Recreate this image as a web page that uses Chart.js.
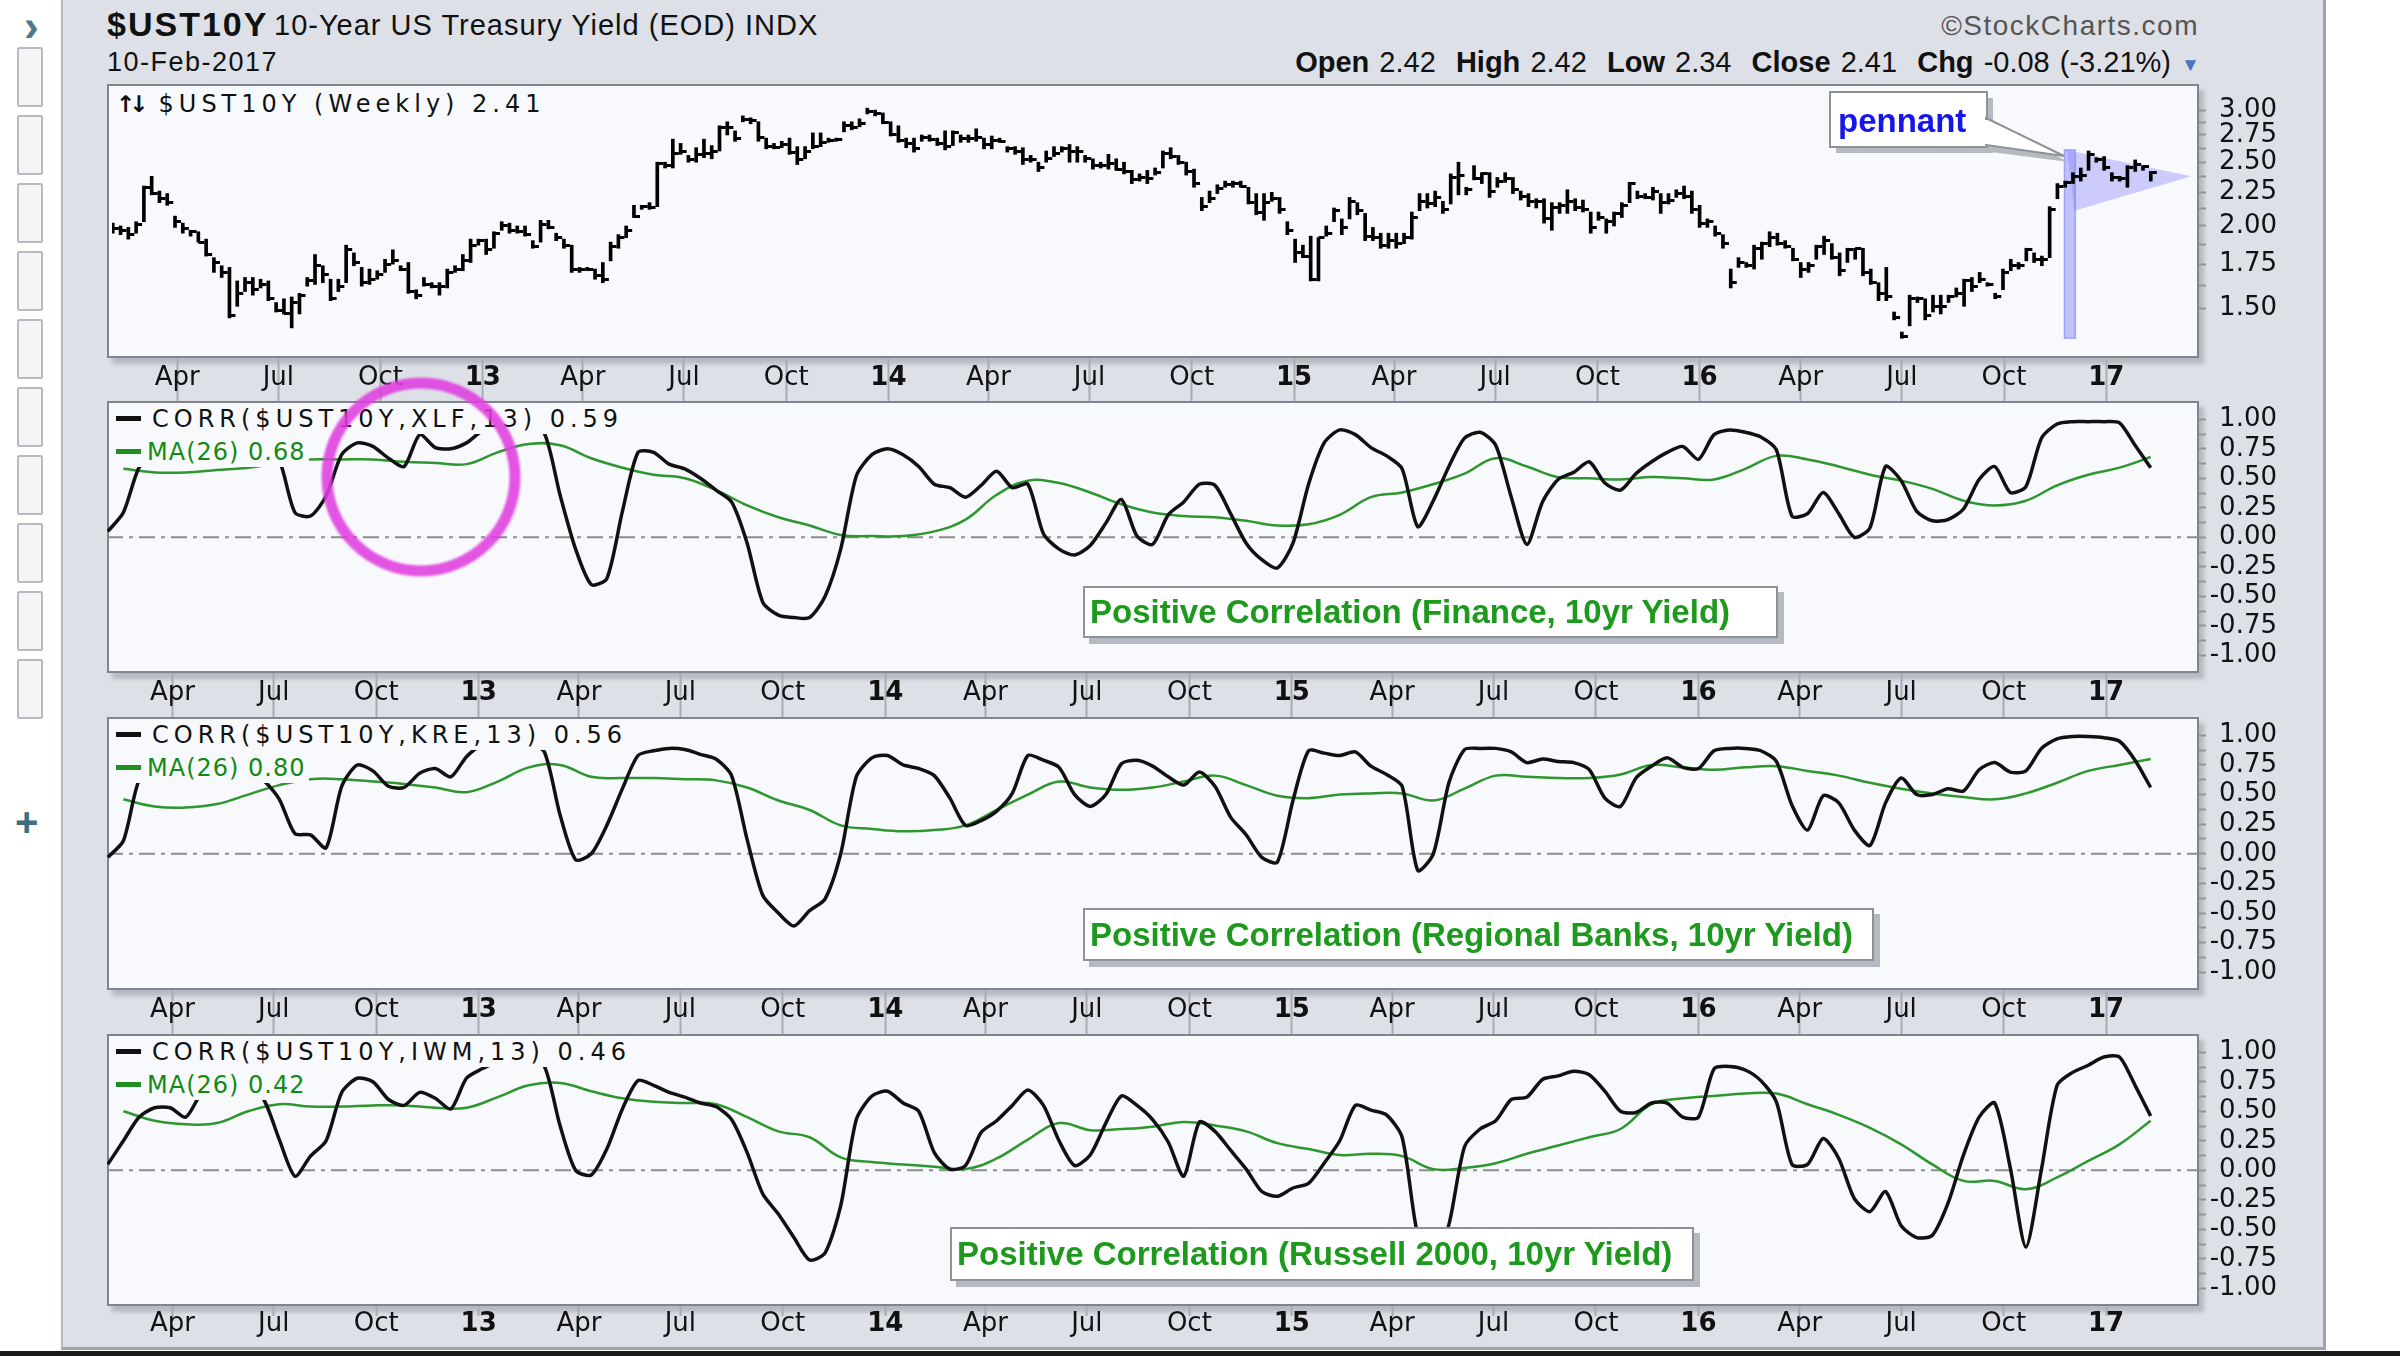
<!DOCTYPE html>
<html>
<head>
<meta charset="utf-8">
<title>$UST10Y with correlation panels</title>
<script src="https://cdn.jsdelivr.net/npm/chart.js@4.4.1/dist/chart.umd.min.js"></script>
<style>
  html, body { margin: 0; padding: 0; background: #fff; }
  body { width: 2400px; height: 1356px; position: relative; overflow: hidden; font-family: 'Liberation Sans', Arial, sans-serif; color: #111; }
  .abs { position: absolute; }
  #frame { left: 61px; top: 0; width: 2265px; height: 1350px; background: #dde0e7; border-left: 2px solid #b3b8c1; border-right: 3px solid #9ea3ac; border-bottom: 3px solid #9ea3ac; box-sizing: border-box; }
  #bottomline { left: 0; top: 1351px; width: 2400px; height: 5px; background: #1c1c1c; }
  .btn { left: 17px; width: 26px; height: 60px; box-sizing: border-box; border: 2px solid #b7bac0; background: #f5f5f5; border-radius: 2px; }
  .plot { left: 107px; width: 2092px; box-sizing: border-box; border: 2px solid #7f848e; background: #f8f9fc; box-shadow: 5px 6px 4px rgba(80, 85, 100, 0.28); }
  canvas { position: absolute; left: 107px; }
  .leg { left: 112px; height: 29px; line-height: 29px; font-family: 'DejaVu Sans', sans-serif; font-size: 24px; white-space: nowrap; background: #f8f9fc; padding: 0 4px; }
  .dash { display: inline-block; width: 25px; height: 5px; vertical-align: middle; margin-top: -3px; }
  .note { box-sizing: border-box; background: #fff; border: 2px solid #8e9197; box-shadow: 6px 6px 0 #b5b9c1; font-weight: bold; font-size: 33px; color: #1d9a1d; padding-left: 5px; white-space: nowrap; }
  .hdr { white-space: nowrap; line-height: 1; }
</style>
</head>
<body>
<div id="frame" class="abs"></div>
<div id="bottomline" class="abs"></div>

<div class="abs hdr" style="left:24px; top:4px; font-size:44px; font-weight:bold; color:#4e7a8b;">›</div>
<div id="sidebar"></div>
<div class="abs hdr" style="left:15px; top:802px; font-size:40px; font-weight:bold; color:#3c6d83;">+</div>

<div class="abs hdr" style="left:107px; top:7px; font-size:34px; font-weight:bold; letter-spacing:2px;">$UST10Y</div>
<div class="abs hdr" style="left:274px; top:11px; font-size:29px; letter-spacing:1px;">10-Year US Treasury Yield (EOD) INDX</div>
<div class="abs hdr" style="right:201px; top:12px; font-size:28px; letter-spacing:1.5px; color:#555;">©StockCharts.com</div>
<div class="abs hdr" style="left:107px; top:49px; font-size:27px; letter-spacing:1.5px;">10-Feb-2017</div>
<div class="abs hdr" style="right:229px; top:48px; font-size:29px; word-spacing:2px;">
  <b>Open</b> 2.42&nbsp;&nbsp;<b>High</b> 2.42&nbsp;&nbsp;<b>Low</b> 2.34&nbsp;&nbsp;<b>Close</b> 2.41&nbsp;&nbsp;<b>Chg</b> -0.08 (-3.21%)
</div>
<div class="abs hdr" style="left:2181px; top:55px; font-size:19px; color:#4a76bd;">▼</div>

<div class="abs plot" style="top:84px; height:274px;"></div>
<div class="abs plot" style="top:401px; height:272px;"></div>
<div class="abs plot" style="top:717px; height:273px;"></div>
<div class="abs plot" style="top:1034px; height:272px;"></div>

<div id="charts"></div>

<div class="abs leg" style="top:90px;"><span style="font-size:23px; font-weight:bold; letter-spacing:-6px; margin-right:16px;">↑↓</span><span style="letter-spacing:5px;">$UST10Y (Weekly) 2.41</span></div>

<div class="abs leg" style="top:405px;"><span class="dash" style="background:#111; margin-right:11px;"></span><span style="letter-spacing:5px;">CORR($UST10Y,XLF,13) 0.59</span></div>
<div class="abs leg" style="top:438px; color:#138a13;"><span class="dash" style="background:#1f8f1f; margin-right:6px;"></span><span style="letter-spacing:1px;">MA(26) 0.68</span></div>

<div class="abs leg" style="top:721px;"><span class="dash" style="background:#111; margin-right:11px;"></span><span style="letter-spacing:5px;">CORR($UST10Y,KRE,13) 0.56</span></div>
<div class="abs leg" style="top:754px; color:#138a13;"><span class="dash" style="background:#1f8f1f; margin-right:6px;"></span><span style="letter-spacing:1px;">MA(26) 0.80</span></div>

<div class="abs leg" style="top:1038px;"><span class="dash" style="background:#111; margin-right:11px;"></span><span style="letter-spacing:5px;">CORR($UST10Y,IWM,13) 0.46</span></div>
<div class="abs leg" style="top:1071px; color:#138a13;"><span class="dash" style="background:#1f8f1f; margin-right:6px;"></span><span style="letter-spacing:1px;">MA(26) 0.42</span></div>

<div class="abs note" style="left:1083px; top:586px; width:695px; height:52px; line-height:48px;">Positive Correlation (Finance, 10yr Yield)</div>
<div class="abs note" style="left:1083px; top:908px; width:791px; height:53px; line-height:49px;">Positive Correlation (Regional Banks, 10yr Yield)</div>
<div class="abs note" style="left:950px; top:1227px; width:744px; height:54px; line-height:50px;">Positive Correlation (Russell 2000, 10yr Yield)</div>

<svg class="abs" style="left:0; top:0;" width="2400" height="1356">
  <defs><filter id="soft"><feGaussianBlur stdDeviation="1.3"/></filter></defs>
  <circle cx="421" cy="477" r="94" fill="none" stroke="#e03ee0" stroke-width="11" opacity="0.88" filter="url(#soft)"/>
  <rect x="1836" y="98" width="157" height="55" fill="#b5b9c1"/>
  <polygon points="1990,124 2069,162 1990,152" fill="#b5b9c1"/>
  <rect x="1830" y="92" width="157" height="55" fill="#fff" stroke="#8e9197" stroke-width="2"/>
  <polygon points="1986,118 2064,156 1986,145" fill="#fff" stroke="#8e9197" stroke-width="2"/>
  <rect x="1983" y="120" width="5" height="24" fill="#fff"/>
</svg>
<div class="abs hdr" style="left:1838px; top:104px; font-size:33px; font-weight:bold; color:#1616e8;">pennant</div>

<script>
// time axis: weeks since Friday 27-Jan-2012
const origin = Date.UTC(2012, 0, 27);
const weekOf = s => (Date.parse(s) - origin) / (7 * 864e5);

const tickDates = ['2012-04-01', '2012-07-01', '2012-10-01', '2013-01-01', '2013-04-01', '2013-07-01', '2013-10-01',
  '2014-01-01', '2014-04-01', '2014-07-01', '2014-10-01', '2015-01-01', '2015-04-01', '2015-07-01', '2015-10-01',
  '2016-01-01', '2016-04-01', '2016-07-01', '2016-10-01', '2017-01-01'];
const tickLabels = ['Apr', 'Jul', 'Oct', '13', 'Apr', 'Jul', 'Oct', '14', 'Apr', 'Jul', 'Oct', '15',
  'Apr', 'Jul', 'Oct', '16', 'Apr', 'Jul', 'Oct', '17'];
const priceTicks = [1.5, 1.75, 2, 2.25, 2.5, 2.75, 3];
const corrTicks = [-1, -0.75, -0.5, -0.25, 0, 0.25, 0.5, 0.75, 1];

// weekly bars, first one is 3-Feb-2012 (week 1)
const firstBarWeek = 1;
const high = [
  2.02, 2.00, 1.99, 2.03, 2.30, 2.38, 2.26, 2.24, 2.07, 2.02,
  1.97, 1.96, 1.91, 1.79, 1.74, 1.73, 1.65, 1.67, 1.67, 1.66,
  1.65, 1.53, 1.55, 1.56, 1.58, 1.67, 1.81, 1.74, 1.66, 1.66,
  1.87, 1.82, 1.73, 1.72, 1.71, 1.78, 1.84, 1.74, 1.76, 1.60,
  1.67, 1.64, 1.64, 1.72, 1.74, 1.81, 1.91, 1.91, 1.91, 1.96,
  2.03, 2.02, 2.00, 2.00, 1.90, 2.04, 2.04, 1.95, 1.91, 1.87,
  1.73, 1.73, 1.72, 1.76, 1.89, 1.94, 2.00, 2.15, 2.15, 2.17,
  2.50, 2.50, 2.71, 2.67, 2.56, 2.63, 2.71, 2.65, 2.84, 2.88,
  2.79, 2.94, 2.92, 2.88, 2.72, 2.67, 2.69, 2.72, 2.64, 2.64,
  2.77, 2.77, 2.72, 2.72, 2.88, 2.88, 2.91, 3.02, 3.00, 2.97,
  2.88, 2.84, 2.72, 2.72, 2.75, 2.75, 2.72, 2.79, 2.79, 2.75,
  2.75, 2.81, 2.72, 2.74, 2.72, 2.64, 2.64, 2.63, 2.56, 2.50,
  2.60, 2.64, 2.64, 2.66, 2.64, 2.56, 2.53, 2.50, 2.57, 2.53,
  2.50, 2.43, 2.40, 2.43, 2.45, 2.60, 2.63, 2.56, 2.50, 2.44,
  2.21, 2.26, 2.31, 2.34, 2.34, 2.34, 2.29, 2.24, 2.24, 2.25,
  2.21, 2.03, 1.91, 1.87, 1.93, 1.92, 2.00, 2.13, 2.05, 2.21,
  2.17, 2.09, 1.99, 1.95, 1.95, 1.95, 1.95, 2.10, 2.24, 2.24,
  2.26, 2.18, 2.40, 2.50, 2.29, 2.47, 2.41, 2.41, 2.37, 2.41,
  2.37, 2.26, 2.24, 2.20, 2.20, 2.17, 2.17, 2.27, 2.20, 2.19,
  2.10, 2.10, 2.05, 2.10, 2.17, 2.33, 2.26, 2.24, 2.29, 2.24,
  2.24, 2.27, 2.30, 2.26, 2.15, 2.05, 2.00, 1.94, 1.72, 1.79,
  1.76, 1.87, 1.89, 1.96, 1.95, 1.90, 1.85, 1.76, 1.76, 1.87,
  1.93, 1.88, 1.82, 1.85, 1.85, 1.85, 1.72, 1.64, 1.73, 1.48,
  1.38, 1.57, 1.56, 1.55, 1.57, 1.57, 1.57, 1.61, 1.66, 1.67,
  1.70, 1.64, 1.58, 1.72, 1.78, 1.76, 1.85, 1.82, 1.80, 2.14,
  2.32, 2.34, 2.41, 2.45, 2.60, 2.54, 2.55, 2.41, 2.38, 2.47,
  2.52, 2.47, 2.42];
const low = [
  1.95, 1.94, 1.91, 1.95, 2.03, 2.23, 2.17, 2.15, 1.99, 1.95,
  1.93, 1.89, 1.80, 1.70, 1.67, 1.45, 1.51, 1.59, 1.57, 1.61,
  1.54, 1.48, 1.47, 1.40, 1.47, 1.62, 1.63, 1.64, 1.54, 1.59,
  1.64, 1.74, 1.62, 1.63, 1.66, 1.70, 1.75, 1.71, 1.58, 1.55,
  1.62, 1.61, 1.57, 1.61, 1.70, 1.71, 1.76, 1.87, 1.81, 1.85,
  1.97, 1.95, 1.95, 1.93, 1.85, 1.89, 1.98, 1.90, 1.85, 1.70,
  1.70, 1.71, 1.66, 1.64, 1.77, 1.85, 1.92, 2.06, 2.12, 2.12,
  2.14, 2.45, 2.45, 2.57, 2.50, 2.50, 2.54, 2.53, 2.60, 2.75,
  2.69, 2.88, 2.86, 2.69, 2.62, 2.62, 2.63, 2.57, 2.48, 2.53,
  2.62, 2.64, 2.68, 2.69, 2.78, 2.80, 2.83, 2.96, 2.94, 2.86,
  2.74, 2.68, 2.63, 2.59, 2.69, 2.69, 2.65, 2.61, 2.65, 2.68,
  2.68, 2.69, 2.62, 2.62, 2.68, 2.59, 2.57, 2.48, 2.50, 2.42,
  2.50, 2.55, 2.59, 2.50, 2.50, 2.50, 2.44, 2.45, 2.44, 2.43,
  2.40, 2.32, 2.34, 2.32, 2.39, 2.45, 2.53, 2.48, 2.39, 2.29,
  2.11, 2.17, 2.24, 2.29, 2.29, 2.29, 2.16, 2.08, 2.04, 2.18,
  2.09, 1.94, 1.76, 1.79, 1.65, 1.65, 1.93, 2.03, 1.94, 2.05,
  2.08, 1.90, 1.90, 1.85, 1.85, 1.85, 1.88, 1.91, 2.11, 2.13,
  2.14, 2.09, 2.16, 2.23, 2.23, 2.35, 2.32, 2.21, 2.29, 2.33,
  2.24, 2.19, 2.14, 2.13, 2.02, 1.97, 2.09, 2.09, 2.11, 2.10,
  1.95, 2.04, 1.95, 2.00, 2.06, 2.17, 2.20, 2.20, 2.19, 2.09,
  2.16, 2.21, 2.20, 2.09, 1.99, 1.99, 1.93, 1.85, 1.61, 1.73,
  1.73, 1.72, 1.78, 1.86, 1.87, 1.85, 1.77, 1.67, 1.70, 1.78,
  1.81, 1.78, 1.68, 1.76, 1.78, 1.68, 1.63, 1.54, 1.54, 1.44,
  1.35, 1.41, 1.53, 1.44, 1.48, 1.47, 1.53, 1.56, 1.51, 1.59,
  1.64, 1.62, 1.55, 1.60, 1.71, 1.72, 1.77, 1.76, 1.74, 1.79,
  2.20, 2.29, 2.32, 2.34, 2.43, 2.50, 2.43, 2.34, 2.34, 2.29,
  2.42, 2.43, 2.34];
const close = [
  1.98, 1.97, 1.94, 2.01, 2.29, 2.24, 2.20, 2.17, 2.03, 1.98,
  1.96, 1.89, 1.81, 1.76, 1.70, 1.46, 1.58, 1.64, 1.60, 1.63,
  1.55, 1.49, 1.47, 1.53, 1.57, 1.65, 1.74, 1.69, 1.55, 1.62,
  1.84, 1.76, 1.64, 1.66, 1.69, 1.75, 1.77, 1.72, 1.59, 1.57,
  1.63, 1.62, 1.62, 1.70, 1.72, 1.77, 1.87, 1.90, 1.84, 1.95,
  2.00, 1.97, 1.96, 1.94, 1.86, 2.01, 1.99, 1.92, 1.87, 1.72,
  1.72, 1.72, 1.68, 1.66, 1.86, 1.92, 1.97, 2.07, 2.14, 2.13,
  2.49, 2.47, 2.58, 2.60, 2.52, 2.57, 2.58, 2.60, 2.82, 2.82,
  2.72, 2.90, 2.89, 2.73, 2.64, 2.63, 2.66, 2.59, 2.52, 2.60,
  2.64, 2.68, 2.70, 2.71, 2.84, 2.82, 2.86, 2.99, 2.96, 2.87,
  2.75, 2.70, 2.67, 2.62, 2.73, 2.71, 2.67, 2.64, 2.77, 2.72,
  2.72, 2.73, 2.66, 2.70, 2.69, 2.62, 2.60, 2.52, 2.52, 2.45,
  2.53, 2.58, 2.62, 2.60, 2.60, 2.53, 2.47, 2.47, 2.49, 2.44,
  2.42, 2.35, 2.37, 2.36, 2.41, 2.58, 2.55, 2.50, 2.42, 2.32,
  2.14, 2.20, 2.28, 2.31, 2.32, 2.30, 2.17, 2.10, 2.17, 2.20,
  2.12, 1.97, 1.82, 1.80, 1.66, 1.92, 1.95, 2.11, 1.99, 2.18,
  2.11, 1.93, 1.92, 1.87, 1.90, 1.88, 1.92, 2.06, 2.18, 2.16,
  2.21, 2.12, 2.37, 2.39, 2.27, 2.36, 2.40, 2.26, 2.34, 2.36,
  2.27, 2.22, 2.18, 2.18, 2.05, 2.13, 2.15, 2.18, 2.13, 2.12,
  1.99, 2.06, 2.03, 2.09, 2.15, 2.32, 2.22, 2.21, 2.26, 2.17,
  2.19, 2.24, 2.22, 2.12, 2.02, 2.03, 1.95, 1.88, 1.64, 1.76,
  1.74, 1.85, 1.88, 1.92, 1.88, 1.86, 1.78, 1.72, 1.74, 1.86,
  1.90, 1.79, 1.71, 1.84, 1.85, 1.70, 1.64, 1.58, 1.56, 1.45,
  1.36, 1.55, 1.55, 1.46, 1.51, 1.51, 1.56, 1.58, 1.65, 1.62,
  1.66, 1.63, 1.56, 1.70, 1.74, 1.74, 1.84, 1.78, 1.78, 2.12,
  2.30, 2.33, 2.38, 2.39, 2.57, 2.52, 2.45, 2.37, 2.36, 2.45,
  2.48, 2.46, 2.41];

// 13-week correlations, read every 2nd week starting week 1
const corrStart = 1, corrStep = 2;
const corrXLF = [
  0.05, 0.21, 0.59, 0.72, 0.78, 0.80, 0.82, 0.80, 0.78, 0.80,
  0.75, 0.65, 0.21, 0.18, 0.35, 0.70, 0.80, 0.77, 0.67, 0.60,
  0.87, 0.76, 0.75, 0.80, 0.90, 0.93, 0.93, 0.92, 0.88, 0.36,
  -0.10, -0.40, -0.35, 0.22, 0.72, 0.72, 0.62, 0.58, 0.50, 0.40,
  0.30, -0.05, -0.55, -0.66, -0.68, -0.68, -0.50, -0.10, 0.52, 0.70,
  0.75, 0.70, 0.60, 0.45, 0.42, 0.34, 0.44, 0.56, 0.42, 0.45,
  0.03, -0.10, -0.15, -0.07, 0.12, 0.32, 0.01, -0.06, 0.19, 0.30,
  0.45, 0.44, 0.20, -0.05, -0.19, -0.26, -0.05, 0.45, 0.80, 0.91,
  0.87, 0.76, 0.69, 0.58, 0.09, 0.31, 0.60, 0.84, 0.89, 0.78,
  0.34, -0.06, 0.30, 0.49, 0.55, 0.64, 0.46, 0.40, 0.54, 0.64,
  0.72, 0.77, 0.66, 0.87, 0.91, 0.89, 0.85, 0.74, 0.18, 0.20,
  0.38, 0.20, 0.00, 0.08, 0.60, 0.48, 0.22, 0.14, 0.15, 0.24,
  0.49, 0.60, 0.38, 0.43, 0.84, 0.96, 0.98, 0.98, 0.98, 0.97,
  0.78, 0.59];
const corrKRE = [
  -0.03, 0.11, 0.62, 0.72, 0.78, 0.80, 0.78, 0.76, 0.74, 0.70,
  0.62, 0.46, 0.17, 0.16, 0.05, 0.57, 0.75, 0.70, 0.57, 0.56,
  0.68, 0.72, 0.65, 0.82, 0.92, 0.95, 0.95, 0.93, 0.86, 0.33,
  -0.05, 0.00, 0.24, 0.55, 0.83, 0.87, 0.89, 0.88, 0.84, 0.80,
  0.66, 0.12, -0.35, -0.50, -0.61, -0.48, -0.38, 0.00, 0.65, 0.81,
  0.83, 0.75, 0.72, 0.66, 0.47, 0.24, 0.28, 0.36, 0.51, 0.83,
  0.79, 0.73, 0.50, 0.40, 0.50, 0.76, 0.79, 0.74, 0.65, 0.58,
  0.69, 0.57, 0.31, 0.16, -0.03, -0.07, 0.45, 0.87, 0.85, 0.83,
  0.86, 0.74, 0.67, 0.57, -0.14, 0.00, 0.60, 0.88, 0.89, 0.89,
  0.86, 0.77, 0.80, 0.78, 0.77, 0.71, 0.47, 0.40, 0.64, 0.74,
  0.81, 0.73, 0.72, 0.87, 0.89, 0.89, 0.87, 0.78, 0.41, 0.20,
  0.49, 0.43, 0.20, 0.07, 0.43, 0.64, 0.50, 0.50, 0.55, 0.53,
  0.71, 0.77, 0.69, 0.70, 0.89, 0.97, 0.99, 0.99, 0.98, 0.95,
  0.79, 0.56];
const corrIWM = [
  0.05, 0.25, 0.45, 0.53, 0.53, 0.45, 0.65, 0.72, 0.75, 0.70,
  0.60, 0.26, -0.05, 0.12, 0.25, 0.66, 0.78, 0.75, 0.60, 0.55,
  0.66, 0.61, 0.52, 0.78, 0.86, 0.92, 0.95, 0.93, 0.88, 0.38,
  0.00, -0.04, 0.18, 0.52, 0.76, 0.72, 0.66, 0.62, 0.57, 0.54,
  0.43, 0.15, -0.20, -0.37, -0.57, -0.76, -0.70, -0.30, 0.43, 0.63,
  0.67, 0.57, 0.50, 0.15, 0.01, 0.04, 0.32, 0.42, 0.55, 0.68,
  0.55, 0.25, 0.04, 0.13, 0.40, 0.63, 0.55, 0.43, 0.24, -0.05,
  0.41, 0.33, 0.17, 0.01, -0.18, -0.22, -0.15, -0.11, 0.06, 0.25,
  0.55, 0.51, 0.47, 0.28, -0.55, -0.80, -0.46, 0.20, 0.35, 0.42,
  0.60, 0.62, 0.77, 0.80, 0.84, 0.81, 0.67, 0.50, 0.49, 0.57,
  0.57, 0.45, 0.45, 0.86, 0.88, 0.85, 0.76, 0.58, 0.05, 0.05,
  0.27, 0.10, -0.24, -0.35, -0.18, -0.47, -0.57, -0.55, -0.28, 0.13,
  0.45, 0.57, 0.02, -0.65, 0.01, 0.72, 0.83, 0.89, 0.96, 0.96,
  0.72, 0.46];

// 26-week moving averages of the correlations, read every 4th week starting week 3
const maStart = 3, maStep = 4;
const maXLF = [
  0.58, 0.55, 0.55, 0.57, 0.59, 0.63, 0.66, 0.66, 0.66, 0.64,
  0.63, 0.62, 0.72, 0.79, 0.78, 0.67, 0.59, 0.53, 0.50, 0.40,
  0.27, 0.17, 0.10, 0.02, 0.01, 0.01, 0.05, 0.15, 0.36, 0.48,
  0.46, 0.38, 0.28, 0.21, 0.18, 0.17, 0.14, 0.10, 0.11, 0.19,
  0.34, 0.38, 0.45, 0.54, 0.67, 0.60, 0.51, 0.50, 0.49, 0.51,
  0.50, 0.49, 0.58, 0.69, 0.66, 0.60, 0.53, 0.48, 0.41, 0.31,
  0.27, 0.31, 0.44, 0.53, 0.59, 0.68];
const maKRE = [
  0.46, 0.40, 0.39, 0.42, 0.50, 0.58, 0.63, 0.63, 0.61, 0.59,
  0.56, 0.52, 0.61, 0.73, 0.75, 0.65, 0.64, 0.64, 0.63, 0.62,
  0.56, 0.45, 0.37, 0.24, 0.21, 0.19, 0.20, 0.24, 0.37, 0.50,
  0.61, 0.56, 0.54, 0.56, 0.61, 0.66, 0.58, 0.49, 0.47, 0.50,
  0.51, 0.51, 0.45, 0.55, 0.66, 0.65, 0.64, 0.64, 0.67, 0.75,
  0.73, 0.71, 0.73, 0.74, 0.70, 0.66, 0.60, 0.55, 0.51, 0.48,
  0.46, 0.51, 0.60, 0.70, 0.75, 0.80];
const maIWM = [
  0.50, 0.42, 0.39, 0.40, 0.50, 0.56, 0.54, 0.54, 0.55, 0.55,
  0.53, 0.53, 0.62, 0.72, 0.74, 0.67, 0.61, 0.58, 0.57, 0.56,
  0.45, 0.33, 0.28, 0.11, 0.07, 0.05, 0.03, 0.01, 0.10, 0.26,
  0.40, 0.34, 0.35, 0.37, 0.41, 0.38, 0.33, 0.23, 0.18, 0.13,
  0.14, 0.12, 0.01, 0.02, 0.06, 0.14, 0.21, 0.28, 0.35, 0.56,
  0.61, 0.63, 0.65, 0.65, 0.56, 0.47, 0.36, 0.22, 0.05, -0.09,
  -0.09, -0.16, -0.06, 0.08, 0.22, 0.42];

// pennant drawing, in chart units (week, yield)
const pennantPole = { weeks: [251.9, 253.3], yields: [1.35, 2.61] };
const pennantFlag = [[252.2, 2.61], [253.2, 2.11], [268.2, 2.38]];

const xMin = 0.9, xMax = 269.2;

// sidebar buttons
const side = document.getElementById('sidebar');
for (let i = 0; i < 10; i++) {
  const b = document.createElement('div');
  b.className = 'abs btn';
  b.style.top = (47 + i * 68) + 'px';
  side.appendChild(b);
}

const tickFont = { family: "'DejaVu Sans', sans-serif", size: 26 };
const midpoints = arr => arr.slice(1).map((v, i) => (v + arr[i]) / 2);

function xAxis(band, tickLen, pad) {
  return {
    type: 'linear', min: xMin, max: xMax, offset: false,
    afterBuildTicks: s => { s.ticks = tickDates.map(d => ({ value: weekOf(d) })); },
    afterFit: s => { s.height = band; s.paddingLeft = 0; s.paddingRight = 0; },
    grid: { drawOnChartArea: false, tickLength: tickLen, tickColor: '#a7abb3', tickWidth: 2, offset: false },
    border: { display: false },
    ticks: {
      autoSkip: false, maxRotation: 0, padding: pad, color: '#111',
      callback: (v, i) => tickLabels[i],
      font: c => ({ ...tickFont, weight: /^\d/.test(tickLabels[c.index] || '') ? 'bold' : 'normal' })
    }
  };
}

function yAxis(type, min, max, major) {
  const all = major.concat(midpoints(major));
  return {
    type, position: 'right', min, max,
    afterBuildTicks: s => { s.ticks = all.sort((a, b) => a - b).map(v => ({ value: v })); },
    afterFit: s => { s.width = 78; s.paddingTop = 0; s.paddingBottom = 0; },
    grid: { drawOnChartArea: false, tickLength: 7, tickColor: '#8f939a', tickWidth: 2 },
    border: { display: false },
    ticks: {
      padding: 2, crossAlign: 'far', color: '#111', font: tickFont, autoSkip: false,
      callback: v => major.includes(v) ? v.toFixed(2) : ''
    }
  };
}

const common = {
  responsive: false, animation: false, devicePixelRatio: 1, events: [],
  layout: { padding: 0 },
  plugins: { legend: { display: false }, tooltip: { enabled: false } }
};

function makeCanvas(top, w, h) {
  const c = document.createElement('canvas');
  c.width = w; c.height = h;
  c.style.top = top + 'px';
  document.getElementById('charts').appendChild(c);
  return c.getContext('2d');
}

// close tick to the right of each bar
const closeTick = document.createElement('canvas');
closeTick.width = 14; closeTick.height = 3;
closeTick.getContext('2d').fillRect(7, 0, 6, 3);

const pennantPlugin = {
  id: 'pennant',
  beforeDatasetsDraw(chart) {
    const { ctx, scales: { x, y } } = chart;
    ctx.save();
    const px0 = x.getPixelForValue(pennantPole.weeks[0]), px1 = x.getPixelForValue(pennantPole.weeks[1]);
    const py0 = y.getPixelForValue(pennantPole.yields[1]), py1 = y.getPixelForValue(pennantPole.yields[0]);
    ctx.fillStyle = 'rgba(110,110,245,0.40)';
    ctx.fillRect(px0, py0, px1 - px0, py1 - py0);
    ctx.strokeStyle = 'rgba(90,90,235,0.45)';
    ctx.lineWidth = 1.5;
    ctx.strokeRect(px0, py0, px1 - px0, py1 - py0);
    ctx.beginPath();
    pennantFlag.forEach(([w, v], i) => {
      const px = x.getPixelForValue(w), py = y.getPixelForValue(v);
      i ? ctx.lineTo(px, py) : ctx.moveTo(px, py);
    });
    ctx.closePath();
    ctx.fillStyle = 'rgba(125,125,250,0.36)';
    ctx.fill();
    ctx.restore();
  }
};

// price panel
new Chart(makeCanvas(84, 2170, 317), {
  type: 'bar',
  data: {
    datasets: [
      { type: 'line', data: close.map((v, i) => ({ x: firstBarWeek + i, y: v })), showLine: false,
        pointStyle: closeTick, pointRadius: 3, order: 0 },
      { type: 'bar', data: high.map((v, i) => ({ x: firstBarWeek + i, y: [low[i], v] })),
        backgroundColor: '#000', borderWidth: 0, barThickness: 3, order: 1 }
    ]
  },
  options: { ...common, scales: { x: xAxis(43, 43, -38.6), y: yAxis('logarithmic', 1.26, 3.23, priceTicks) } },
  plugins: [pennantPlugin]
});

// correlation panels
function corrPanel(top, plotH, band, tickLen, pad, corr, ma) {
  new Chart(makeCanvas(top, 2170, plotH + band), {
    type: 'scatter',
    data: {
      datasets: [
        { data: corr.map((v, i) => ({ x: corrStart + i * corrStep, y: v })), showLine: true,
          borderColor: '#111', borderWidth: 3.5, pointRadius: 0, tension: 0.25 },
        { data: ma.map((v, i) => ({ x: maStart + i * maStep, y: v })), showLine: true,
          borderColor: '#2e962e', borderWidth: 2.5, pointRadius: 0, tension: 0.4 },
        { data: [{ x: xMin, y: 0 }, { x: xMax, y: 0 }], showLine: true,
          borderColor: '#8c8c8c', borderWidth: 2, borderDash: [16, 6, 4, 6], pointRadius: 0 }
      ]
    },
    options: { ...common, scales: { x: xAxis(band, tickLen, pad), y: yAxis('linear', -1.15, 1.155, corrTicks) } }
  });
}
corrPanel(401, 272, 44, 44, -39.6, corrXLF, maXLF);
corrPanel(717, 273, 44, 44, -39.6, corrKRE, maKRE);
corrPanel(1034, 272, 41, 10, -7, corrIWM, maIWM);
</script>
</body>
</html>
